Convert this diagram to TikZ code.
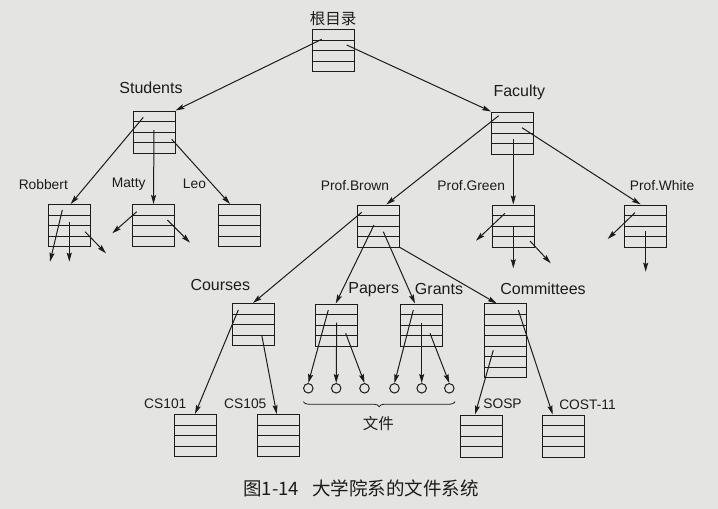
\documentclass[tikz,border=0pt]{standalone}
\usepackage{fontspec}
\setmainfont{Liberation Sans}
\newfontfamily\cjk{Noto Sans CJK SC}
\usetikzlibrary{arrows.meta,calc,decorations.pathreplacing}
\definecolor{paper}{RGB}{228,228,226}
\definecolor{ink}{RGB}{28,28,28}
\tikzset{
  rowsof/.style={path picture={
    \pgfmathtruncatemacro\nm{#1-1}
    \foreach \k in {1,...,\nm}{
      \draw[ink,line width=0.65pt] ($(path picture bounding box.north west)!{\k/#1}!(path picture bounding box.south west)$) -- ($(path picture bounding box.north east)!{\k/#1}!(path picture bounding box.south east)$);
    }}},
  dirbox/.style={draw=ink,line width=1pt,rectangle,inner sep=0pt,minimum width=42pt,minimum height=42pt,rowsof=4},
  tallbox/.style={draw=ink,line width=1pt,rectangle,inner sep=0pt,minimum width=42pt,minimum height=73.5pt,rowsof=7},
  filec/.style={draw=ink,line width=1pt,circle,inner sep=0pt,minimum size=9.5pt},
  big/.style={text=ink,inner sep=0pt,font=\fontsize{16}{19}\selectfont},
  small/.style={text=ink,inner sep=0pt,font=\fontsize{13.8}{16}\selectfont},
  zh/.style={text=ink,inner sep=0pt,font=\cjk\fontsize{15.5}{18}\selectfont},
  link/.style={draw=ink,line width=1pt,-{Stealth[length=9pt,width=5pt,inset=1.5pt]}},
  bracestyle/.style={draw=ink,line width=0.8pt,decorate,decoration={brace,mirror,amplitude=5pt}}
}
\begin{document}
\begin{tikzpicture}[x=1pt,y=-1pt]
\fill[paper] (0,0) rectangle (718,509);
\useasboundingbox (0,0) rectangle (718,509);

% boxes
\node[dirbox] (root) at (333,50.5) {};
\node[dirbox] (students) at (154,132) {};
\node[dirbox] (robbert) at (69,225.5) {};
\node[dirbox] (matty) at (153.5,225.5) {};
\node[dirbox] (leo) at (239.5,225.5) {};
\node[dirbox] (faculty) at (512.5,133) {};
\node[dirbox] (brown) at (378.5,226) {};
\node[dirbox] (green) at (513.3,226) {};
\node[dirbox] (white) at (645,226) {};
\node[dirbox] (courses) at (253,324.5) {};
\node[dirbox] (papers) at (336.7,325) {};
\node[dirbox] (grants) at (421.3,325) {};
\node[tallbox] (committees) at (505,340.7) {};
\node[dirbox] (cs101) at (195,435.5) {};
\node[dirbox] (cs105) at (278,435.5) {};
\node[dirbox] (sosp) at (481,436) {};
\node[dirbox] (cost) at (563,436) {};

% files
\node[filec] (f1) at (308.3,388.3) {};
\node[filec] (f2) at (336.2,388.3) {};
\node[filec] (f3) at (364.5,388.3) {};
\node[filec] (f4) at (394.5,388.3) {};
\node[filec] (f5) at (421.7,388.3) {};
\node[filec] (f6) at (449.3,388.3) {};

% labels
\node[zh] (lroot) at (333,19) {根目录};
\node[big] (lstudents) at (151,88) {Students};
\node[small] (lrobbert) at (43.3,184.3) {Robbert};
\node[small] (lmatty) at (128.7,184.3) {Matty};
\node[small] (lleo) at (194.5,184.3) {Leo};
\node[big] (lfaculty) at (519.3,92.7) {Faculty};
\node[small] (lbrown) at (355,185.7) {Prof.Brown};
\node[small] (lgreen) at (471.2,185.7) {Prof.Green};
\node[small] (lwhite) at (662,185.7) {Prof.White};
\node[big] (lcourses) at (220.3,285) {Courses};
\node[big] (lpapers) at (373.7,289.3) {Papers};
\node[big] (lgrants) at (439,289.3) {Grants};
\node[big] (lcommittees) at (543,288.3) {Committees};
\node[small] (lcs101) at (165.3,404) {CS101};
\node[small] (lcs105) at (245.3,404) {CS105};
\node[small] (lsosp) at (502.5,404) {SOSP};
\node[small] (lcost) at (587.5,405) {COST-11};
\node[zh] (lfiles) at (378.3,423.3) {文件};
\node[text=ink,inner sep=0pt,font=\cjk\fontsize{18.5}{22}\selectfont] (caption) at (361,488.5) {图1-14\hspace{13pt}大学院系的文件系统};

% connectors
\draw[link] ([shift={(-11.3,-11.2)}]root.center) -- (students.north east);
\draw[link] ([shift={(13.7,-5.5)}]root.center) -- (faculty.north west);

\draw[link] ([shift={(-10.7,-14.7)}]students.center) -- ([shift={(1.7,0)}]robbert.north);
\draw[link] ([shift={(0,-2)}]students.center) -- (matty.north);
\draw[link] ([shift={(17.7,7.3)}]students.center) -- ([shift={(-9.5,0)}]leo.north);

\coordinate (r1) at (50,261.7);
\coordinate (r2) at (69.3,261.7);
\coordinate (r3) at (106,253.3);
\draw[link] ([shift={(-6.7,-15.5)}]robbert.center) -- (r1);
\draw[link] ([shift={(0.3,-3.8)}]robbert.center) -- (r2);
\draw[link] ([shift={(16,6.2)}]robbert.center) -- (r3);

\coordinate (m1) at (112.3,233.3);
\coordinate (m2) at (190,242.7);
\draw[link] ([shift={(-16.8,-13.8)}]matty.center) -- (m1);
\draw[link] ([shift={(13.8,-5.5)}]matty.center) -- (m2);

\draw[link] ([shift={(-13.8,-17.3)}]faculty.center) -- ([shift={(7.8,0)}]brown.north);
\draw[link] ([shift={(0.8,6.3)}]faculty.center) -- (green.north);
\draw[link] ([shift={(9.5,-5.3)}]faculty.center) -- ([shift={(-4.3,0)}]white.north);

\coordinate (g1) at (476,240.7);
\coordinate (g2) at (513.3,268.3);
\coordinate (g3) at (550.7,263.3);
\draw[link] ([shift={(-8.3,-12.7)}]green.center) -- (g1);
\draw[link] ([shift={(0,1.3)}]green.center) -- (g2);
\draw[link] ([shift={(16.7,15)}]green.center) -- (g3);

\coordinate (w1) at (607.7,239);
\coordinate (w2) at (645.7,271.7);
\draw[link] ([shift={(-10,-13.3)}]white.center) -- (w1);
\draw[link] ([shift={(0.7,5)}]white.center) -- (w2);

\draw[link] ([shift={(-16.8,-13.7)}]brown.center) -- (courses.north);
\draw[link] ([shift={(-4.5,-1)}]brown.center) -- ([shift={(-1,0)}]papers.north);
\draw[link] ([shift={(4.8,5.7)}]brown.center) -- ([shift={(-6.3,0)}]grants.north);
\draw[link] (brown.south east) -- ([shift={(-8.3,0)}]committees.north);

\draw[link] ([shift={(-14.7,-14.5)}]courses.center) -- (cs101.north);
\draw[link] ([shift={(8.7,10.5)}]courses.center) -- ([shift={(-1.3,0)}]cs105.north);

\draw[link] ([shift={(-8.4,-15)}]papers.center) -- (f1.north);
\draw[link] ([shift={(0,-2.3)}]papers.center) -- (f2.north);
\draw[link] ([shift={(9,8.3)}]papers.center) -- (f3.north);
\draw[link] ([shift={(-8,-15)}]grants.center) -- (f4.north);
\draw[link] ([shift={(0.4,-2.3)}]grants.center) -- (f5.north);
\draw[link] ([shift={(8.7,8.3)}]grants.center) -- (f6.north);

\draw[link] ([shift={(-11.7,9.5)}]committees.center) -- ([shift={(-6,0)}]sosp.north);
\draw[link] ([shift={(13.3,-30.5)}]committees.center) -- ([shift={(-10.3,0)}]cost.north);

\draw[bracestyle] ([shift={(-5,13.4)}]f1.center) -- ([shift={(5.7,13.4)}]f6.center);
\end{tikzpicture}
\end{document}
